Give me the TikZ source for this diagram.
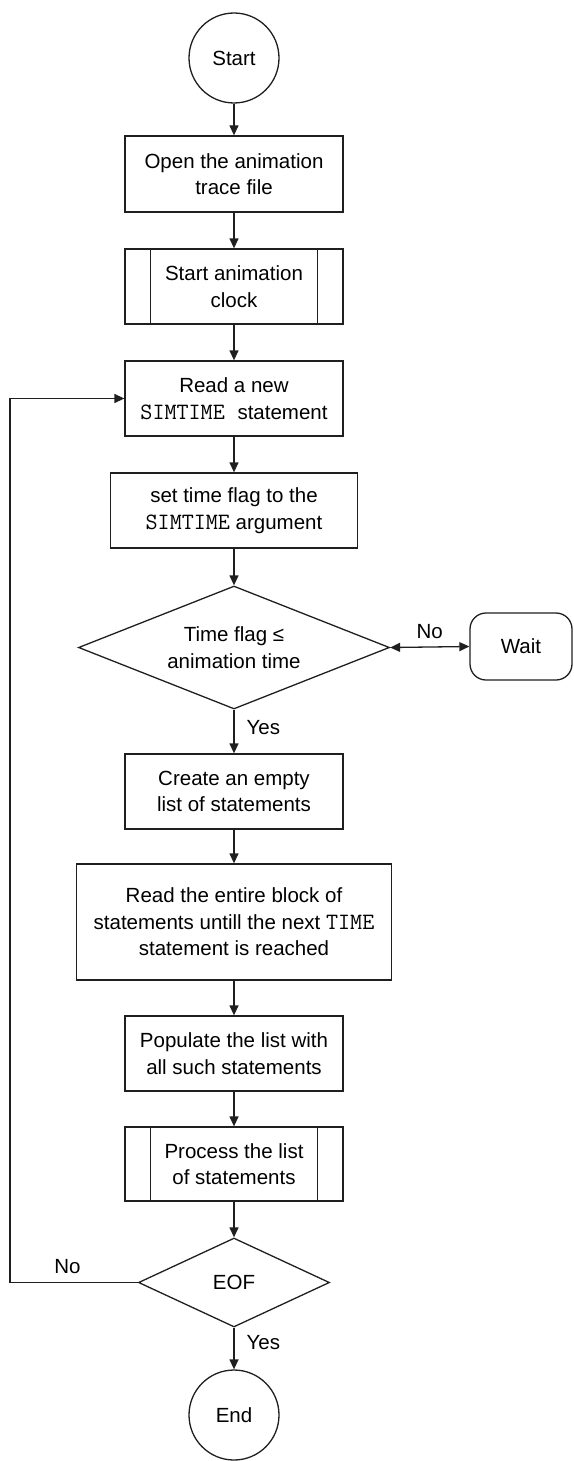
\documentclass[tikz,border=0pt]{standalone}
\usepackage{fontspec}
\setmainfont{Liberation Sans}
\usetikzlibrary{shapes.geometric,arrows.meta}
% keyword text in a serif typewriter face, widened to Courier proportions
\newcommand{\kw}[1]{{\fontsize{23.4}{26.5}\selectfont\ttfamily #1}}
\begin{document}
\begin{tikzpicture}[x=1pt,y=-1pt,
  line width=1.3pt,
  every node/.style={inner sep=0pt,align=center,font=\fontsize{20.5}{26.5}\selectfont},
  flow/.style={draw=black!88,line width=1.3pt,-{Triangle[length=10pt,width=9pt]}},
  term/.style={draw=black!88,circle,minimum size=90pt},
  proc/.style={draw=black!88,rectangle,minimum width=218pt,minimum height=75pt},
  decision/.style={draw=black!88,diamond,aspect=2.5},
  lbl/.style={font=\fontsize{20.5}{24}\selectfont}]
\useasboundingbox (0,0) rectangle (573,1461);

\node[term] (start) at (234,58) {Start};
\node[proc,minimum height=76pt] (open) at (234,174) {Open the animation\\trace file};
\node[proc] (clock) at (234,286.5) {Start animation\\clock};
\node[proc] (read) at (234,398.5) {Read a new\\\kw{SIMTIME}\hspace{7pt} statement};
\node[proc,minimum width=247pt] (setflag) at (234,510.5) {set time flag to the\\\kw{SIMTIME} argument};
\node[decision,minimum width=311pt,minimum height=123pt] (check) at (234,647.5) {Time flag ≤\\animation time};
\node[draw=black!88,rounded corners=16pt,minimum width=102pt,minimum height=67pt] (wait) at (521,646.5) {Wait};
\node[proc] (create) at (234,791.5) {Create an empty\\list of statements};
\node[proc,minimum width=315pt,minimum height=116pt] (block) at (234,922) {Read the entire block of\\statements untill the next \kw{TIME}\\statement is reached};
\node[proc] (populate) at (234,1053.5) {Populate the list with\\all such statements};
\node[proc,minimum height=74pt] (process) at (234,1164) {Process the list\\of statements};
\node[decision,minimum width=191pt,minimum height=89pt] (eof) at (234,1282.5) {EOF};
\node[term] (end) at (234,1415) {End};

% predefined-process side bars
\foreach \n in {clock,process}{
  \draw[draw=black!88] ([xshift=26pt]\n.north west) -- ([xshift=26pt]\n.south west);
  \draw[draw=black!88] ([xshift=-26pt]\n.north east) -- ([xshift=-26pt]\n.south east);
}

% main flow
\draw[flow] (start) -- (open);
\draw[flow] (open) -- (clock);
\draw[flow] (clock) -- (read);
\draw[flow] (read) -- (setflag);
\draw[flow] (setflag) -- (check);
\draw[flow] (check) -- node[lbl,right=12pt,pos=0.4] {Yes} (create);
\draw[flow] (create) -- (block);
\draw[flow] (block) -- (populate);
\draw[flow] (populate) -- (process);
\draw[flow] (process) -- (eof);
\draw[flow] (eof) -- node[lbl,right=12pt,pos=0.35] {Yes} (end);

% wait branch
\draw[flow,{Triangle[length=10pt,width=9pt]}-{Triangle[length=10pt,width=9pt]}] (check.east) -- node[lbl,above=8pt] {No} (wait.west);

% loop back
\coordinate (loop) at (10,1282.5);
\draw[flow] (eof.west) -- node[lbl,above=8pt,pos=0.55] {No} (loop) |- (read.west);
\end{tikzpicture}
\end{document}
